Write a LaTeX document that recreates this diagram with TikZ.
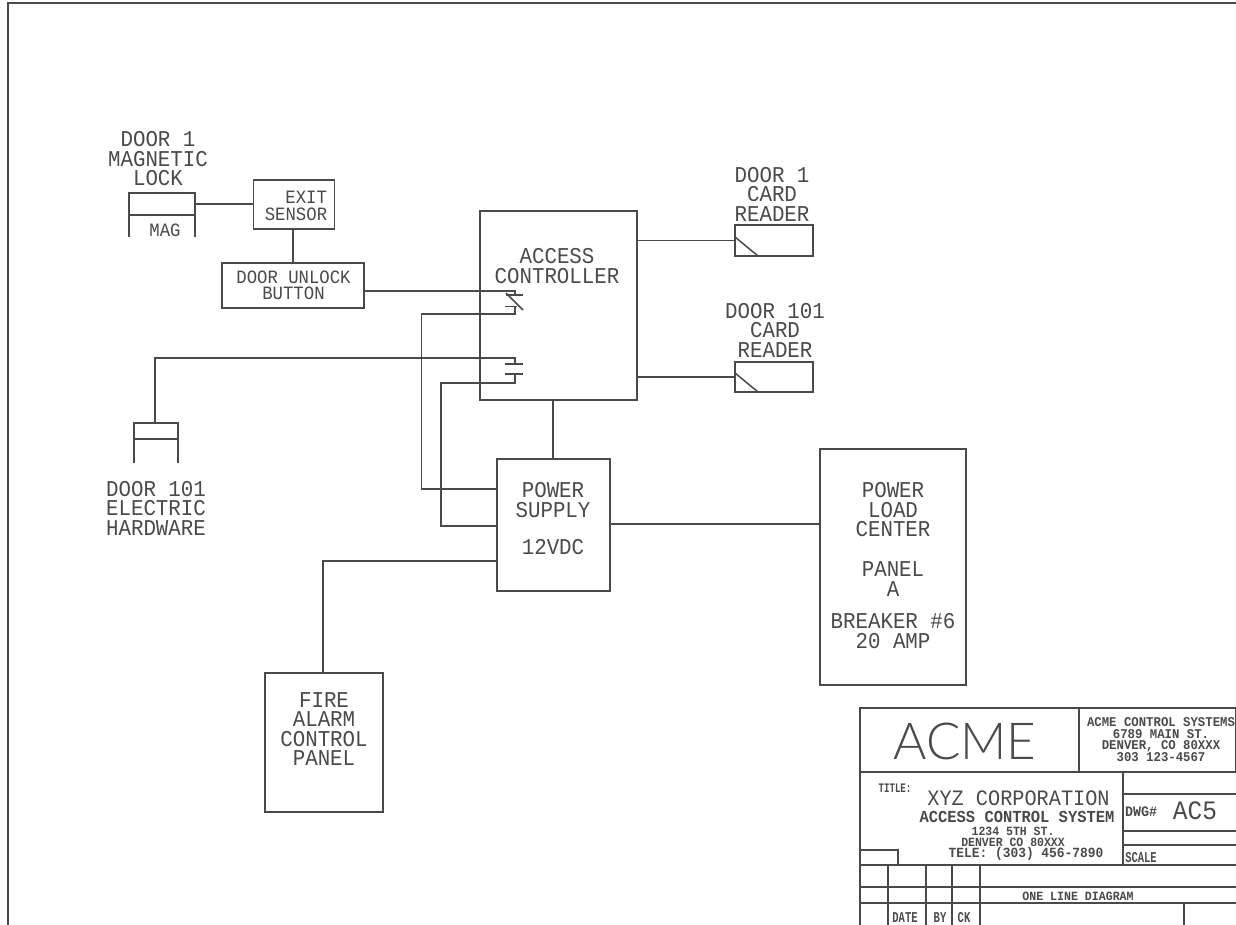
\documentclass[tikz,border=0pt]{standalone}
\usepackage{fontspec}
\newfontfamily\cad[FakeStretch=0.92]{Liberation Mono}
\newfontfamily\cadn[FakeStretch=0.7]{Liberation Mono}
\newfontfamily\cadthin{Lato Light}
\newcommand{\cadsize}[2]{\fontsize{#1pt}{#2pt}\selectfont\cad}
\newcommand{\cadnsize}[2]{\fontsize{#1pt}{#2pt}\selectfont\cadn}
\definecolor{ink}{HTML}{4A4A4A}
\tikzset{
  wire/.style={draw=ink,line width=1.5pt},
  thin wire/.style={draw=ink,line width=1.1pt},
  box/.style={draw=ink,line width=1.7pt,inner sep=0pt,outer sep=0pt,anchor=north west},
  lbl/.style={text=ink,align=center,inner sep=0pt,outer sep=0pt},
  big/.style={lbl,font=\cadsize{22.6}{19.5}},
  mid/.style={lbl,font=\cadsize{18.8}{16.5}},
  tiny/.style={lbl,font=\cadsize{13.4}{11.3}\bfseries},
  narrowlbl/.style={lbl,font=\cadnsize{15}{15}\bfseries},
}
\begin{document}
\begin{tikzpicture}[x=1pt,y=-1pt]
\useasboundingbox (0,0) rectangle (1236,925);
\fill[white] (0,0) rectangle (1236,925);
% sheet border
\coordinate (sheetA) at (8,925);
\coordinate (sheetB) at (8,3);
\coordinate (sheetC) at (1236,3);
\draw[wire] (sheetA) -- (sheetB) -- (sheetC);

% boxes
\node[box,minimum width=81pt,minimum height=49pt] (exit) at (253.5,180) {};
\node[box,minimum width=142pt,minimum height=45pt] (unlock) at (222,263) {};
\node[box,minimum width=157pt,minimum height=189pt] (ctrl) at (480,211) {};
\node[box,minimum width=113pt,minimum height=132pt] (psu) at (497,459) {};
\node[box,minimum width=146pt,minimum height=236pt] (load) at (820,449) {};
\node[box,minimum width=118pt,minimum height=139pt] (fire) at (265,673) {};
\node[box,minimum width=78pt,minimum height=31pt] (reader1) at (735,225) {};
\node[box,minimum width=78pt,minimum height=30pt] (reader2) at (735,362) {};
\node[box,minimum width=66pt,minimum height=22pt] (mag) at (129,193) {};
\node[box,minimum width=44pt,minimum height=16pt] (hw) at (134,423) {};

% magnet and hardware legs
\coordinate (magL) at (129,237);
\coordinate (magR) at (195,237);
\coordinate (hwL) at (134,463);
\coordinate (hwR) at (178,463);
\draw[wire] (mag.south west) -- (magL);
\draw[wire] (mag.south east) -- (magR);
\draw[wire] (hw.south west) -- (hwL);
\draw[wire] (hw.south east) -- (hwR);

% reader slashes
\coordinate (r1a) at (735,237);
\coordinate (r1b) at (758,256);
\coordinate (r2a) at (735,373);
\coordinate (r2b) at (758,392);
\draw[wire] (r1a) -- (r1b);
\draw[wire] (r2a) -- (r2b);

% normally closed contact
\coordinate (ncTop) at (515,296);
\coordinate (ncBot) at (515,306.5);
\coordinate (ncLow) at (515,314);
\coordinate (ncA) at (506,295);
\coordinate (ncB) at (523,295);
\coordinate (ncC) at (505,306.5);
\coordinate (ncD) at (517,306.5);
\coordinate (ncE) at (506,293);
\coordinate (ncF) at (523,310);
\draw[wire] (ncA) -- (ncB);
\draw[wire] (ncC) -- (ncD);
\draw[wire] (ncE) -- (ncF);

% normally open contact
\coordinate (noTop) at (515,364);
\coordinate (noBot) at (515,374);
\coordinate (noA) at (505,364);
\coordinate (noB) at (523,364);
\coordinate (noC) at (505,374);
\coordinate (noD) at (523,374);
\draw[wire] (noA) -- (noB);
\draw[wire] (noC) -- (noD);

% connectors
\coordinate (noOver) at (515,358);
\coordinate (hwTurn) at (155,358);
\coordinate (ncRise) at (515,291);
\coordinate (ncTurn) at (421.5,314);
\coordinate (psuA) at (497,489);
\coordinate (noTurn) at (441,383);
\coordinate (noLow) at (515,383);
\coordinate (psuB) at (497,526);
\coordinate (psuC) at (497,561);
\coordinate (fireTurn) at (323,561);
\coordinate (fireTop) at (323,673);
\coordinate (ctrlOut) at (553,400);
\coordinate (psuTop) at (553,459);
\coordinate (psuRight) at (610,524);
\coordinate (loadLeft) at (820,524);
\coordinate (exitDown) at (293,229);
\coordinate (unlockUp) at (293,263);
\coordinate (magPort) at (195,204);
\coordinate (exitPort) at (253.5,204);
\coordinate (unlockPort) at (364,291);
\draw[wire] (magPort) -- (exitPort);
\draw[wire] (exitDown) -- (unlockUp);
\draw[wire] (unlockPort) -- (ncRise) -- (ncTop);
\draw[wire] (ncBot) -- (ncLow) -- (ncTurn) -- (ncTurn |- psuA) -- (psuA);
\draw[thin wire] (hw.north -| hwTurn) -- (hwTurn) -- (noOver) -- (noTop);
\draw[wire] (noBot) -- (noLow) -- (noTurn) -- (noTurn |- psuB) -- (psuB);
\draw[wire] (psuC) -- (fireTurn) -- (fireTop);
\draw[wire] (ctrlOut) -- (psuTop);
\draw[wire] (psuRight) -- (loadLeft);
\draw[thin wire] (ctrl.east |- reader1.west) -- (reader1.west);
\draw[wire] (ctrl.east |- reader2.west) -- (reader2.west);

% labels
\node[big] (tMagLock) at (158,159) {DOOR 1\\MAGNETIC\\LOCK};
\node[mid] (tMag) at (165,230) {MAG};
\node[mid,anchor=east] (tExit) at (327,197) {EXIT};
\node[mid] (tSensor) at (296,214) {SENSOR};
\node[mid] (tUnlock) at (293.5,285.5) {DOOR UNLOCK\\BUTTON};
\node[big] (tCtrl) at (557,266) {ACCESS\\CONTROLLER};
\node[big] (tR1) at (772,194) {DOOR 1\\CARD\\READER};
\node[big] (tR2) at (775,330) {DOOR 101\\CARD\\READER};
\node[big] (tHw) at (156,508) {DOOR 101\\ELECTRIC\\HARDWARE};
\node[big] (tPsu) at (553,500) {POWER\\SUPPLY};
\node[big] (tVdc) at (553,547) {12VDC};
\node[big] (tLoad1) at (893,510) {POWER\\LOAD\\CENTER};
\node[big] (tLoad2) at (893,579) {PANEL\\A};
\node[big] (tLoad3) at (893,631) {BREAKER \#6\\20 AMP};
\node[big] (tFire) at (324,729) {FIRE\\ALARM\\CONTROL\\PANEL};

% title block
\node[box,minimum width=376pt,minimum height=64pt] (tbTop) at (860,708) {};
\coordinate (tbA) at (1079,708);
\coordinate (tbB) at (1079,772);
\coordinate (tbC) at (1123,772);
\coordinate (tbD) at (1123,865);
\coordinate (tbE) at (860,865);
\coordinate (tbF) at (1236,865);
\coordinate (tbG) at (860,925);
\coordinate (tb794L) at (1123,794);
\coordinate (tb794R) at (1236,794);
\coordinate (tb831L) at (1123,831);
\coordinate (tb831R) at (1236,831);
\coordinate (tb845L) at (1123,845);
\coordinate (tb845R) at (1236,845);
\coordinate (tb887L) at (860,887);
\coordinate (tb887R) at (1236,887);
\coordinate (tb903L) at (860,903);
\coordinate (tb903R) at (1236,903);
\coordinate (tbs1) at (860,850);
\coordinate (tbs2) at (898,850);
\coordinate (tbs3) at (898,865);
\coordinate (c1a) at (888,865); \coordinate (c1b) at (888,925);
\coordinate (c2a) at (926,865); \coordinate (c2b) at (926,925);
\coordinate (c3a) at (952,865); \coordinate (c3b) at (952,925);
\coordinate (c4a) at (980,865); \coordinate (c4b) at (980,925);
\coordinate (c5a) at (1184,903); \coordinate (c5b) at (1184,925);
\draw[wire] (tbTop.south west) -- (tbG);
\draw[wire] (tbA) -- (tbB);
\draw[wire] (tbC) -- (tbD);
\draw[wire] (tbE) -- (tbF);
\draw[thin wire] (tb794L) -- (tb794R);
\draw[thin wire] (tb831L) -- (tb831R);
\draw[thin wire] (tb845L) -- (tb845R);
\draw[wire] (tb887L) -- (tb887R);
\draw[wire] (tb903L) -- (tb903R);
\draw[thin wire] (tbs1) -- (tbs2) -- (tbs3);
\draw[thin wire] (c1a) -- (c1b);
\draw[thin wire] (c2a) -- (c2b);
\draw[thin wire] (c3a) -- (c3b);
\draw[thin wire] (c4a) -- (c4b);
\draw[thin wire] (c5a) -- (c5b);

\node[lbl,font=\fontsize{51pt}{51pt}\selectfont\cadthin] (tAcme) at (965,741) {ACME};
\node[tiny] (tAddr) at (1161,740) {ACME CONTROL SYSTEMS\\6789 MAIN ST.\\DENVER, CO 80XXX\\303 123-4567};
\node[lbl,font=\cadnsize{13}{13}\bfseries] (tTitle) at (895,788) {TITLE:};
\node[lbl,font=\cadsize{22}{22}] (tXyz) at (1018.5,798) {XYZ CORPORATION};
\node[lbl,font=\cadsize{16.8}{17}\bfseries] (tSys) at (1017,817) {ACCESS CONTROL SYSTEM};
\node[lbl,font=\cadsize{12.5}{10.5}\bfseries] (tStreet) at (1013,837) {1234 5TH ST.\\DENVER CO 80XXX};
\node[lbl,font=\cadsize{14}{14}\bfseries] (tTele) at (1026,854) {TELE: (303) 456-7890};
\node[lbl,font=\cadsize{14.5}{15}\bfseries] (tDwg) at (1141,812) {DWG\#};
\node[lbl,font=\cadsize{26.6}{27}] (tAc) at (1195,811) {AC5};
\node[narrowlbl] (tScale) at (1141,858) {SCALE};
\node[lbl,font=\cadsize{12.6}{13}\bfseries] (tOne) at (1078,896) {ONE LINE DIAGRAM};
\node[narrowlbl] (tDate) at (905,918) {DATE};
\node[narrowlbl] (tBy) at (940,918) {BY};
\node[narrowlbl] (tCk) at (964,918) {CK};
\end{tikzpicture}
\end{document}
